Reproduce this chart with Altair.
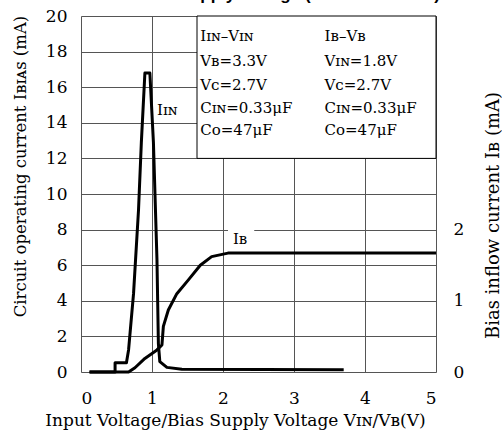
import altair as alt
import pandas as pd

# I_IN vs V_IN (left axis, mA)
iin_x = [0.12, 0.48, 0.48, 0.64, 0.67, 0.74, 0.81, 0.85, 0.90, 0.97, 1.02, 1.07, 1.09, 1.11, 1.21, 1.42, 3.70]
iin_y = [0.0, 0.0, 0.52, 0.52, 1.24, 4.4, 9.1, 12.9, 16.8, 16.8, 12.9, 6.3, 1.6, 0.58, 0.26, 0.15, 0.12]

# I_B vs V_B (right axis, mA)
ib_x = [0.12, 0.67, 0.76, 0.90, 1.07, 1.14, 1.16, 1.23, 1.35, 1.51, 1.68, 1.84, 2.07, 5.0]
ib_y = [0.0, 0.0, 0.06, 0.19, 0.31, 0.38, 0.64, 0.87, 1.10, 1.29, 1.50, 1.62, 1.67, 1.67]

x_ticks = [0, 1, 2, 3, 4, 5]
y_left_ticks = [0, 2, 4, 6, 8, 10, 12, 14, 16, 18, 20]
y_right_ticks = [0, 1, 2]

legend_col1 = ["Iɪɴ–Vɪɴ", "Vʙ=3.3V", "Vᴄ=2.7V", "Cɪɴ=0.33μF", "Cᴏ=47μF"]
legend_col2 = ["Iʙ–Vʙ", "Vɪɴ=1.8V", "Vᴄ=2.7V", "Cɪɴ=0.33μF", "Cᴏ=47μF"]

title_text = ["Circuit Current vs. Supply Voltage (Reference Data)"]

SERIF = "DejaVu Serif"

iin_df = pd.DataFrame({"x": iin_x, "y": iin_y, "o": range(len(iin_x))})
ib_df = pd.DataFrame({"x": ib_x, "y": ib_y, "o": range(len(ib_x))})

xscale = alt.Scale(domain=[0, 5], nice=False, zero=False)
yscale_left = alt.Scale(domain=[0, 20], nice=False)
yscale_right = alt.Scale(domain=[0, 5], nice=False)

x_axis = alt.Axis(values=x_ticks, format="d", grid=True, gridColor="#555", gridWidth=1,
                  domain=False, ticks=False, labelPadding=18, labelFontSize=17,
                  labelFont=SERIF, labelColor="black", labelOverlap=False,
                  title="Input Voltage/Bias Supply Voltage Vɪɴ/Vʙ(V)",
                  titleFont=SERIF, titleFontSize=17, titleFontWeight="normal",
                  titleColor="black", titlePadding=6, titleX=154, titleAlign="center")

yl_axis = alt.Axis(values=y_left_ticks, format="d", grid=True, gridColor="#555", gridWidth=1,
                   domain=False, ticks=False, labelPadding=14, labelFontSize=17,
                   labelFont=SERIF, labelColor="black", labelOverlap=False,
                   title="Circuit operating current Iʙɪᴀꜱ (mA)",
                   titleFont=SERIF, titleFontSize=16.5, titleFontWeight="normal",
                   titleColor="black", titleAngle=270, titleAlign="center",
                   titleBaseline="middle", titleX=-61, titleY=150)

yr_axis = alt.Axis(orient="right", values=y_right_ticks, format="d", grid=False,
                   domain=False, ticks=False, labelPadding=17, labelFontSize=17,
                   labelFont=SERIF, labelColor="black", labelOverlap=False,
                   title="Bias inflow current  Iʙ (mA)",
                   titleFont=SERIF, titleFontSize=18, titleFontWeight="normal",
                   titleColor="black", titleAngle=270, titleAlign="center",
                   titleBaseline="middle", titleX=57, titleY=199)

def X(field="x:Q"):
    return alt.X(field, scale=xscale, axis=x_axis)

def YL(field="y:Q"):
    return alt.Y(field, scale=yscale_left, axis=yl_axis)

iin_line = alt.Chart(iin_df).mark_line(color="black", strokeWidth=3, strokeJoin="round").encode(
    x=X(), y=YL(), order="o:Q")

# legend box (white, covers grid)
box_df = pd.DataFrame({"x": [1.634], "x2": [5.0], "y": [12.0], "y2": [20.0]})
box = alt.Chart(box_df).mark_rect(fill="white", stroke="black", strokeWidth=1).encode(
    x=X(), x2="x2:Q", y=YL(), y2="y2:Q")

# white patch behind IB label
patch_df = pd.DataFrame({"x": [2.07], "x2": [2.44], "y": [7.7], "y2": [8.3]})
patch = alt.Chart(patch_df).mark_rect(fill="white").encode(
    x=X(), x2="x2:Q", y=YL(), y2="y2:Q")

row_y = [18.85, 17.45, 16.15, 14.85, 13.6]
leg_df = pd.DataFrame({
    "t": legend_col1 + legend_col2,
    "x": [1.68] * len(legend_col1) + [3.43] * len(legend_col2),
    "y": row_y + row_y,
})
leg_text = alt.Chart(leg_df).mark_text(align="left", baseline="middle", font=SERIF,
                                       fontSize=15, color="black").encode(
    x=X(), y=YL(), text="t:N")

lab_df = pd.DataFrame({"t": ["Iɪɴ", "Iʙ"], "x": [1.07, 2.14], "y": [14.7, 7.45]})
labels = alt.Chart(lab_df).mark_text(align="left", baseline="middle", font=SERIF,
                                     fontSize=15, color="black").encode(
    x=X(), y=YL(), text="t:N")

# chart title, mostly cut off by the top edge as in the reference
title_df = pd.DataFrame({"t": title_text})
title_mark = alt.Chart(title_df).mark_text(align="right", baseline="alphabetic",
                                           font="Liberation Sans", fontWeight="bold",
                                           fontSize=17, color="black").encode(
    x=alt.value(359), y=alt.value(-16.5), text="t:N")

left_layer = alt.layer(box, patch, iin_line, leg_text, labels, title_mark)

ib_line = alt.Chart(ib_df).mark_line(color="black", strokeWidth=3, strokeJoin="round").encode(
    x=X(),
    y=alt.Y("y:Q", scale=yscale_right, axis=yr_axis),
    order="o:Q",
)

chart = alt.layer(left_layer, ib_line).resolve_scale(y="independent").properties(
    width=355, height=356,
    autosize=alt.AutoSizeParams(type="none"),
    padding={"left": 81, "top": 16, "right": 66, "bottom": 68},
).configure_view(stroke="black", strokeWidth=1.5).configure(background="white")

chart.save("out.html", embed_options={"renderer": "svg", "actions": False})
